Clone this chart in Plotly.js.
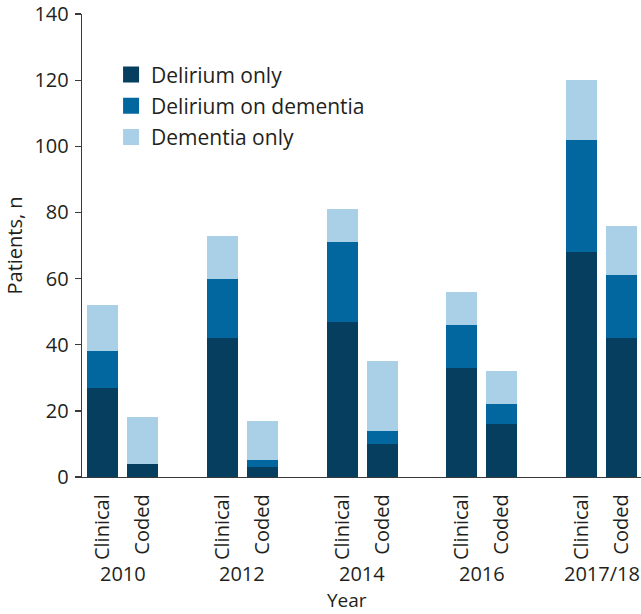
<!DOCTYPE html>
<html>
<head>
<meta charset="utf-8">
<script src="https://cdn.plot.ly/plotly-3.0.1.min.js"></script>
<style>html,body{margin:0;padding:0;background:#fff;}#chart{width:641px;height:614px;}</style>
</head>
<body>
<div id="chart"></div>
<script>
// ---- data ----
const years = ['2010', '2012', '2014', '2016', '2017/18'];
const sources = ['Clinical', 'Coded'];
// order: 2010 Clinical, 2010 Coded, 2012 Clinical, 2012 Coded, ...
const deliriumOnly       = [27, 4, 42, 3, 47, 10, 33, 16, 68, 42];
const deliriumOnDementia = [11, 0, 18, 2, 24, 4, 13, 6, 34, 19];
const dementiaOnly       = [14, 14, 13, 12, 10, 21, 10, 10, 18, 15];
const seriesNames = ['Delirium only', 'Delirium on dementia', 'Dementia only'];
const yTicks = [0, 20, 40, 60, 80, 100, 120, 140];
const yTitle = 'Patients, n';
const xTitle = 'Year';

// ---- layout helpers ----
const GROUP_STEP = 3;
const xPos = [], xLabels = [];
years.forEach((y, gi) => sources.forEach((s, si) => { xPos.push(gi * GROUP_STEP + si); xLabels.push(s); }));

const FONT = 'Open Sans, DejaVu Sans, sans-serif';
const TXT = '#231f20';
const colors = ['#063e5f', '#02679e', '#a9d0e6'];
const seriesValues = [deliriumOnly, deliriumOnDementia, dementiaOnly];

const traces = seriesValues.map((vals, i) => ({
  type: 'bar',
  x: xPos,
  y: vals,
  name: seriesNames[i],
  legendgroup: 'g' + i,
  showlegend: false,
  width: 0.777,
  marker: { color: colors[i], line: { width: 0 } },
  hoverinfo: 'y+name'
}));
// legend entries with larger square swatches
seriesNames.forEach((n, i) => traces.push({
  type: 'scatter', mode: 'markers', x: [null], y: [null], name: n,
  legendgroup: 'g' + i, showlegend: true,
  marker: { symbol: 'square', size: 16, color: colors[i], line: { width: 0 } }
}));

const annotations = years.map((y, gi) => ({
  text: y, xref: 'x', yref: 'paper', x: gi * GROUP_STEP + 0.5, y: 0,
  yanchor: 'middle', xanchor: 'center', yshift: -96, showarrow: false, borderpad: 0,
  font: { family: FONT, size: 20, color: TXT }
}));
annotations.push({
  text: xTitle, xref: 'paper', yref: 'paper', x: 0.474, y: 0,
  yanchor: 'bottom', xanchor: 'center', yshift: -137, showarrow: false, borderpad: 0,
  font: { family: FONT, size: 19, color: TXT }
});
annotations.push({
  text: yTitle, xref: 'paper', yref: 'paper', x: 0, y: 0.5,
  xanchor: 'center', yanchor: 'middle', xshift: -68, textangle: -90, showarrow: false,
  font: { family: FONT, size: 20, color: TXT }
});

const layout = {
  width: 641, height: 614,
  margin: { l: 82, r: 0, t: 14, b: 137, pad: 0 },
  paper_bgcolor: '#fff', plot_bgcolor: '#fff',
  barmode: 'stack',
  font: { family: FONT, size: 20, color: TXT },
  showlegend: true,
  legend: {
    x: 0.052, y: 0.913, xanchor: 'left', yanchor: 'top',
    traceorder: 'grouped', tracegroupgap: 1,
    font: { family: FONT, size: 21, color: TXT },
    bgcolor: 'rgba(0,0,0,0)'
  },
  xaxis: {
    range: [-0.521, 13.49],
    tickmode: 'array', tickvals: xPos, ticktext: xLabels, tickangle: -90,
    ticks: '', showline: true, linecolor: '#3a3a3a', linewidth: 1.3,
    showgrid: false, zeroline: false, ticklabelstandoff: 8,
    tickfont: { family: FONT, size: 20, color: TXT }
  },
  yaxis: {
    range: [0, 140.02], tickmode: 'array', tickvals: yTicks,
    ticks: 'outside', ticklen: 6, tickwidth: 1.3, tickcolor: '#3a3a3a',
    showline: true, linecolor: '#3a3a3a', linewidth: 1.3,
    showgrid: false, zeroline: false, ticklabelstandoff: 2,
    ticklabeloverflow: 'allow',
    tickfont: { family: FONT, size: 20, color: TXT }
  },
  annotations: annotations
};

Plotly.newPlot('chart', traces, layout, { staticPlot: true, displayModeBar: false });
</script>
</body>
</html>
